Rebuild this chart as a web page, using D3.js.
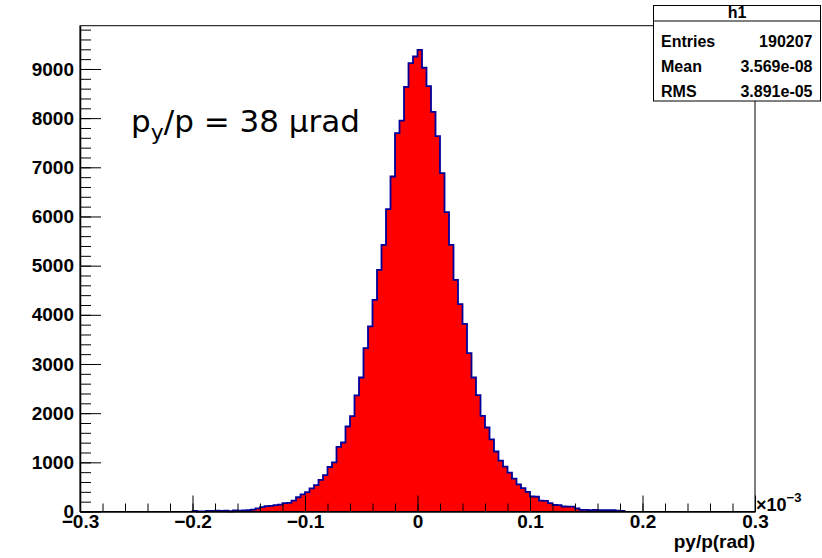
<!DOCTYPE html>
<html>
<head>
<meta charset="utf-8">
<script src="https://cdn.jsdelivr.net/npm/d3@7"></script>
<style>
body { margin: 0; background: #fff; }
svg { display: block; }
.axis text { font-family: "Liberation Sans", Arial, sans-serif; font-weight: bold; font-size: 19px; fill: #000; }
.axis line, .axis path { stroke: #000; }
</style>
</head>
<body>
<script>
// histogram h1: 150 bins on [-0.3, 0.3] (x 1e-3), only the non-empty range is listed
var binLow = -0.2;      // low edge of first listed bin
var binWidth = 0.004;
var counts = [
  10, 0, 0, 12, 12, 15, 12, 15, 5, 20,
  18, 22, 25, 40, 65, 90, 110, 115, 130, 140,
  170, 175, 222, 290, 350, 395, 470, 535, 645, 740,
  905, 1000, 1315, 1403, 1729, 1940, 2360, 2725, 3323, 3763,
  4305, 4916, 5424, 6150, 6813, 7696, 7950, 8635, 9120, 9254,
  9390, 9025, 8650, 8128, 7635, 6882, 6089, 5424, 4712, 4218,
  3817, 3222, 2725, 2365, 1946, 1708, 1465, 1220, 1035, 912,
  790, 668, 550, 476, 400, 305, 300, 222, 218, 171,
  132, 128, 102, 100, 98, 61, 35, 33, 30, 32,
  28, 30, 25, 27, 15, 12
];

var yTicks = [0, 1000, 2000, 3000, 4000, 5000, 6000, 7000, 8000, 9000];
var xTicks = [-0.3, -0.2, -0.1, 0, 0.1, 0.2, 0.3];
var statNames = ["Entries", "Mean", "RMS"];
var statValues = ["190207", "3.569e-08", "3.891e-05"];

var W = 822, H = 558;
var svg = d3.select('body').append('svg')
    .attr('width', W)
    .attr('height', H);

var x = d3.scaleLinear().domain([-0.3, 0.3]).range([80, 755]);
var y = d3.scaleLinear().domain([0, 9880]).range([511.5, 25.7]);

var bins = counts.map(function(c, i){ return {x0: binLow + i * binWidth, n: c}; });
var xEnd = binLow + counts.length * binWidth;
var steps = bins.concat([{x0: xEnd, n: counts[counts.length - 1]}]);

var area = d3.area()
    .curve(d3.curveStepAfter)
    .x(function(d){ return x(d.x0); })
    .y0(y(0))
    .y1(function(d){ return y(d.n); });

svg.append('path')
    .attr('d', area(steps))
    .attr('fill', '#ff0000');

var outline = d3.line()
    .curve(d3.curveStepAfter)
    .x(function(d){ return x(d.x0); })
    .y(function(d){ return y(d.n); });

svg.append('path')
    .attr('d', outline([{x0: binLow, n: 0}].concat(steps).concat([{x0: xEnd, n: 0}])))
    .attr('fill', 'none')
    .attr('stroke', '#000099')
    .attr('stroke-width', 1.8);

// frame
svg.append('rect')
    .attr('x', 80).attr('y', y(9880))
    .attr('width', 675).attr('height', y(0) - y(9880))
    .attr('fill', 'none')
    .attr('stroke', '#000')
    .attr('stroke-width', 1);

// y axis: minor then major
svg.append('g')
    .attr('class', 'axis')
    .attr('transform', 'translate(80,0)')
    .call(d3.axisLeft(y).tickValues(d3.range(0, 9801, 200)).tickSize(-11).tickFormat(''))
    .call(function(g){ g.select('.domain').remove(); });

svg.append('g')
    .attr('class', 'axis')
    .attr('transform', 'translate(80,0)')
    .call(d3.axisLeft(y).tickValues(yTicks).tickSize(-21).tickSizeOuter(0).tickPadding(6)
        .tickFormat(d3.format('d')))
    .call(function(g){ g.select('.domain').attr('stroke-width', 1.5); });

// x axis
var minorX = d3.range(-15, 16).map(function(k){ return k * 0.02; });
svg.append('g')
    .attr('class', 'axis')
    .attr('transform', 'translate(0,' + y(0) + ')')
    .call(d3.axisBottom(x).tickValues(minorX).tickSize(-8).tickFormat(''))
    .call(function(g){ g.select('.domain').remove(); });

svg.append('g')
    .attr('class', 'axis')
    .attr('transform', 'translate(0,' + y(0) + ')')
    .call(d3.axisBottom(x).tickValues(xTicks).tickSize(-16).tickSizeOuter(0).tickPadding(3)
        .tickFormat(function(d){ return Math.abs(d) < 1e-9 ? '0' : d3.format('.1f')(d); }))
    .call(function(g){ g.select('.domain').attr('stroke-width', 1.5); });

// exponent of the x axis
var expo = svg.append('text')
    .attr('x', 756).attr('y', 511)
    .style('font-family', '"Liberation Sans", Arial, sans-serif')
    .style('font-weight', 'bold')
    .style('font-size', '18px')
    .text('\u00d710');
expo.append('tspan')
    .attr('dy', -9)
    .style('font-size', '13px')
    .text('\u22123');

// x axis title
svg.append('text')
    .attr('x', 755).attr('y', 548)
    .attr('text-anchor', 'end')
    .style('font-family', '"Liberation Sans", Arial, sans-serif')
    .style('font-weight', 'bold')
    .style('font-size', '19px')
    .text('py/p(rad)');

// annotation
var note = svg.append('text')
    .attr('x', 131).attr('y', 132)
    .style('font-family', '"DejaVu Sans", sans-serif')
    .style('font-size', '31px')
    .text('p');
note.append('tspan').attr('dy', 8).style('font-size', '22px').text('y');
note.append('tspan').attr('dy', -8).text('/p = 38 \u03bcrad');

// stats box
var box = svg.append('g')
    .style('font-family', '"Liberation Sans", Arial, sans-serif')
    .style('font-weight', 'bold');
box.append('rect')
    .attr('x', 653.5).attr('y', 5.5)
    .attr('width', 167).attr('height', 95.5)
    .attr('fill', '#fff')
    .attr('stroke', '#000');
box.append('line')
    .attr('x1', 653.5).attr('x2', 820.5)
    .attr('y1', 21).attr('y2', 21)
    .attr('stroke', '#000');
box.append('text')
    .attr('x', 737).attr('y', 18)
    .attr('text-anchor', 'middle')
    .style('font-size', '16px')
    .text('h1');
statNames.forEach(function(s, i){
    var by = 46.7 + i * 25.3;
    box.append('text')
        .attr('x', 661).attr('y', by)
        .style('font-size', '16px')
        .text(s);
    box.append('text')
        .attr('x', 812.5).attr('y', by)
        .attr('text-anchor', 'end')
        .style('font-size', '16px')
        .text(statValues[i]);
});
</script>
</body>
</html>
